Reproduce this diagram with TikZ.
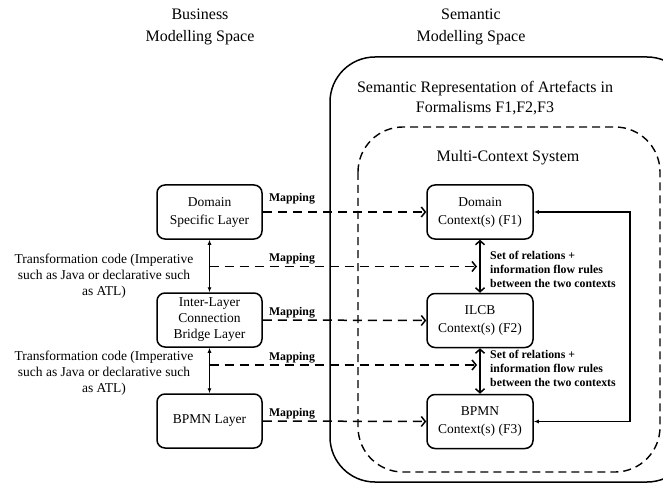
\documentclass[tikz,border=0pt]{standalone}
\usepackage{fontspec}
\setmainfont{Liberation Serif}
\usetikzlibrary{arrows.meta}
\begin{document}
\begin{tikzpicture}[x=1pt,y=-1pt,
  box/.style={draw,line width=1.5pt,rounded corners=8pt,minimum width=105pt,minimum height=54pt,align=center,font=\fontsize{13.5}{18}\selectfont,inner sep=1pt},
  lbl/.style={font=\fontsize{13.5}{16}\selectfont,align=center},
  hdr/.style={font=\fontsize{16}{22}\selectfont,align=center},
  maplbl/.style={font=\bfseries\fontsize{11.8}{14}\selectfont,inner sep=0pt},
  rel/.style={font=\bfseries\fontsize{11.8}{14}\selectfont,align=left,inner sep=0pt},
  maparrow/.style={line width=1.5pt,dash pattern=on 9pt off 6pt,-{Straight Barb[length=4pt,width=10pt,line width=1.5pt]}},
  thinarrow/.style={line width=0.9pt,{Latex[length=5pt,width=4pt]}-{Latex[length=5pt,width=4pt]}},
  thickarrow/.style={line width=1.5pt,{Straight Barb[length=4pt,width=9pt]}-{Straight Barb[length=4pt,width=9pt]}},
  fbarrow/.style={line width=1.2pt,{Latex[length=5pt,width=4pt]}-{Latex[length=5pt,width=4pt]}},
  contour/.style={line width=1.5pt,rounded corners=45pt},
  dcontour/.style={line width=1.4pt,dash pattern=on 8pt off 5pt,rounded corners=45pt}
]
\clip (0,0) rectangle (663,486);

% headers
\node[hdr] (hbus) at (200,27) {Business\\Modelling Space};
\node[hdr] (hsem) at (471,27) {Semantic\\Modelling Space};

% containers
\draw[contour] (330,57) rectangle (692,482);
\draw[dcontour] (358,127) rectangle (660,472);
\node[hdr,font=\fontsize{16}{20}\selectfont] (hrep) at (485,98) {Semantic Representation of Artefacts in\\Formalisms F1,F2,F3};
\node[hdr] (hmcs) at (508,158) {Multi-Context System};

% left boxes
\node[box] (dsl) at (209.5,212) {Domain\\Specific Layer};
\node[box,font=\fontsize{13.5}{16}\selectfont] (ilcbl) at (209.5,320) {Inter-Layer\\Connection\\Bridge Layer};
\node[box] (bpl) at (209.5,421) {BPMN Layer};

% right boxes
\node[box,minimum width=106pt] (dc) at (480,212) {Domain\\Context(s) (F1)};
\node[box,minimum width=106pt] (ic) at (480,320.5) {ILCB\\Context(s) (F2)};
\node[box,minimum width=106pt] (bc) at (480,421.5) {BPMN\\Context(s) (F3)};

% vertical arrows
\draw[thinarrow] (dsl.south) -- (ilcbl.north);
\draw[thinarrow] (ilcbl.south) -- (bpl.north);
\draw[thickarrow] (dc.south) -- (ic.north);
\draw[thickarrow] (ic.south) -- (bc.north);

% mapping arrows between boxes
\draw[maparrow] (dsl.east) -- (dc.west);
\draw[maparrow] (ilcbl.east) -- (ic.west);
\draw[maparrow] (bpl.east) -- (bc.west);

% mapping arrows between transformations
\coordinate (m1s) at (209.5,266.5);
\coordinate (m1e) at (477,266.5);
\coordinate (m2s) at (209.5,365);
\coordinate (m2e) at (477,365);
\draw[maparrow] (m1s) -- (m1e);
\draw[maparrow] (m2s) -- (m2e);

% mapping labels
\node[maplbl] (ml1) at (292,199) {Mapping};
\node[maplbl] (ml2) at (292,259) {Mapping};
\node[maplbl] (ml3) at (292,313) {Mapping};
\node[maplbl] (ml4) at (292,358) {Mapping};
\node[maplbl] (ml5) at (292,414) {Mapping};

% transformation labels
\node[lbl] (tr1) at (104,276) {Transformation code (Imperative\\such as Java or declarative such\\as ATL)};
\node[lbl] (tr2) at (104,373) {Transformation code (Imperative\\such as Java or declarative such\\as ATL)};

% relation labels
\node[rel,anchor=west] (rl1) at (490,269) {Set of relations +\\information flow rules\\between the two contexts};
\node[rel,anchor=west] (rl2) at (490,368.5) {Set of relations +\\information flow rules\\between the two contexts};

% feedback
\coordinate (fbx) at (630,300);
\draw[fbarrow] (bc.east) -- (bc.east -| fbx) -- (dc.east -| fbx) -- (dc.east);
\end{tikzpicture}
\end{document}
